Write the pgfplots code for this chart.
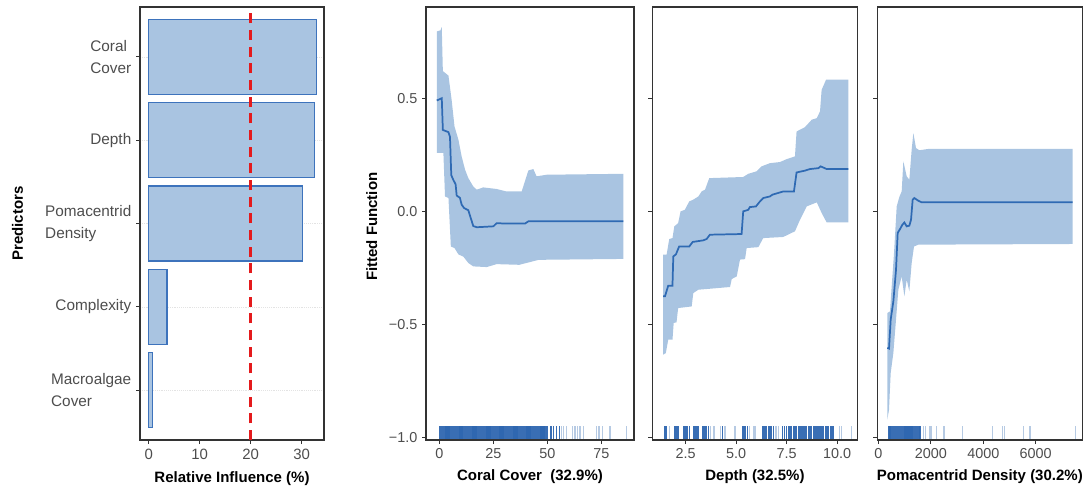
\documentclass[border=0pt]{standalone}
\usepackage{fontspec}
\setmainfont{Liberation Sans}
\usepackage{pgfplots}
\pgfplotsset{compat=1.18}
\definecolor{bandc}{HTML}{A9C4E1}
\definecolor{linec}{HTML}{2F6AB3}
\definecolor{edgec}{HTML}{3D73BC}
\definecolor{framec}{HTML}{333333}
\definecolor{tickc}{HTML}{4D4D4D}
\definecolor{rugc}{HTML}{2E66B0}
\definecolor{redl}{HTML}{E41A1C}
\pgfplotsset{
  base/.style={
    scale only axis, anchor=south west, height=324.75pt,
    axis line style={framec, line width=0.9pt},
    tick style={framec, line width=0.7pt},
    tick align=outside, major tick length=3pt,
    xtick pos=bottom, ytick pos=left,
    ticklabel style={font=\fontsize{10.8}{12}\selectfont, text=tickc},
    label style={font=\bfseries\fontsize{11.25}{13}\selectfont, text=black},
    /pgf/number format/assume math mode=true,
    scaled x ticks=false,
  },
  pdp/.style={
    base,
    ymin=-1.01, ymax=0.903,
    ytick={-1,-0.5,0,0.5},
    xlabel style={at={(axis description cs:0.5,-0.0855)}, anchor=center},
  },
  rug/.style={only marks, mark=|, mark size=4.9pt, opacity=0.35,
    mark options={draw=rugc, line width=0.9pt}},
  rugd/.style={only marks, mark=|, mark size=4.9pt, opacity=0.95,
    mark options={draw=rugc, line width=1.1pt}},
}
\begin{document}
\begin{tikzpicture}
\path[use as bounding box] (0,0) rectangle (816pt,367.5pt);

% ---------------- Panel 1: relative influence
\begin{axis}[base, at={(105pt,37.5pt)}, width=138pt,
  xmin=-1.7, xmax=34.4, ymin=0.4, ymax=5.6,
  xtick={0,10,20,30}, xticklabels={0,10,20,30},
  ytick={1,2,3,4,5},
  yticklabels={{Macroalgae\\Cover},Complexity,{Pomacentrid\\Density},Depth,{Coral\\Cover}},
  xticklabel style={font=\fontsize{11.2}{12}\selectfont},
  yticklabel style={align=left, font=\fontsize{11.5}{16.5}\selectfont},
  ymajorgrids, grid style={densely dotted, gray!22, line width=0.4pt},
  xlabel={Relative Influence (\%)},
  xlabel style={at={(axis description cs:0.5,-0.09)}, anchor=center},
  ylabel={Predictors},
  ylabel style={at={(axis description cs:-0.666,0.5)}, anchor=center},
]
\addplot[xbar, bar width=0.9, fill=bandc, draw=edgec, line width=1pt]
  coordinates {(0.8,1) (3.6,2) (30.2,3) (32.5,4) (32.9,5)};
\addplot[redl, line width=1.8pt, dash pattern=on 7.5pt off 5pt]
  coordinates {(20,0.4) (20,5.6)};
\end{axis}

% ---------------- Panel 2: coral cover
\begin{axis}[pdp, at={(319.5pt,37.5pt)}, width=156pt,
  xmin=-6.2, xmax=90.1,
  xtick={0,25,50,75}, xticklabels={0,25,50,75},
  yticklabels={−1.0,−0.5,0.0,0.5},
  xlabel={Coral Cover\ \ (32.9\%)},
  ylabel={Fitted Function},
  ylabel style={at={(axis description cs:-0.261,0.4926)}, anchor=center},
]
% confidence band: upper bound left to right, then lower bound right to left
\addplot[fill=bandc, draw=none] coordinates {
 (-1.2,0.795) (0.5,0.80) (1.1,0.814) (1.6,0.62) (4.2,0.60) (5.7,0.49) (7.0,0.375)
 (8.8,0.317) (10.3,0.243) (11.9,0.184) (13.4,0.147) (15.7,0.11) (17.3,0.096)
 (20.3,0.106) (26.5,0.099) (31.1,0.088) (38.1,0.088) (39.6,0.133) (41.2,0.181)
 (43.5,0.187) (45,0.155) (49.7,0.162) (85.2,0.166)
 (85.2,-0.21) (46,-0.214) (37,-0.236) (26.5,-0.233) (21.9,-0.246) (15.7,-0.243)
 (13.4,-0.228) (11.1,-0.2) (8.8,-0.19) (7.0,-0.162) (5.3,-0.155) (4.2,0.059)
 (2.6,0.066) (1.85,0.258) (-1.2,0.258)};
\addplot[linec, line width=1.3pt] coordinates {
 (-1.2,0.49) (1.1,0.50) (1.6,0.36) (4.2,0.35) (4.9,0.33) (5.5,0.16) (6.4,0.14)
 (7.5,0.12) (8.0,0.07) (9.5,0.06) (10.3,0.03) (11.4,0.015) (13.4,0.005)
 (14.2,-0.02) (15.7,-0.065) (17.3,-0.07) (25,-0.066) (26.5,-0.052) (31.1,-0.054)
 (39.6,-0.054) (41.2,-0.044) (85.2,-0.044)};
\addplot[rugd] coordinates {
 (0,-0.977) (0.5,-0.977) (1,-0.977) (1.5,-0.977) (2,-0.977) (2.5,-0.977) (3,-0.977) (3.5,-0.977)
 (4,-0.977) (4.5,-0.977) (5,-0.977) (5.5,-0.977) (6,-0.977) (6.5,-0.977) (7,-0.977) (7.5,-0.977)
 (8,-0.977) (8.5,-0.977) (9,-0.977) (9.5,-0.977) (10,-0.977) (10.5,-0.977) (11,-0.977) (11.5,-0.977)
 (12,-0.977) (12.5,-0.977) (13,-0.977) (13.5,-0.977) (14,-0.977) (14.5,-0.977) (15,-0.977) (15.5,-0.977)
 (16,-0.977) (16.5,-0.977) (17,-0.977) (17.5,-0.977) (18,-0.977) (18.5,-0.977) (19,-0.977) (19.5,-0.977)
 (20,-0.977) (20.5,-0.977) (21,-0.977) (21.5,-0.977) (22,-0.977) (22.5,-0.977) (23,-0.977) (23.5,-0.977)
 (24,-0.977) (24.5,-0.977) (25,-0.977) (25.5,-0.977) (26,-0.977) (26.5,-0.977) (27,-0.977) (27.5,-0.977)
 (28,-0.977) (28.5,-0.977) (29,-0.977) (29.5,-0.977) (30,-0.977) (30.5,-0.977) (31,-0.977) (31.5,-0.977)
 (32,-0.977) (32.5,-0.977) (33,-0.977) (33.5,-0.977) (34,-0.977) (34.5,-0.977) (35,-0.977) (35.5,-0.977)
 (36,-0.977) (36.5,-0.977) (37,-0.977) (37.5,-0.977) (38,-0.977) (38.5,-0.977) (39,-0.977) (39.5,-0.977)
 (40,-0.977) (40.5,-0.977) (41,-0.977) (41.5,-0.977) (42,-0.977) (42.5,-0.977) (43,-0.977) (43.5,-0.977)
 (44,-0.977) (44.5,-0.977) (45,-0.977) (45.5,-0.977) (46,-0.977) (46.5,-0.977) (47,-0.977) (47.5,-0.977)
 (48,-0.977) (48.5,-0.977) (49,-0.977) (49.5,-0.977) (50,-0.977)
 (51.6,-0.977) (52.8,-0.977) (54.3,-0.977) (55.5,-0.977)};
\addplot[rug] coordinates {
 (56.7,-0.977) (57.5,-0.977) (59,-0.977)
 (61.8,-0.977) (62.8,-0.977) (63.9,-0.977) (65.1,-0.977) (66.7,-0.977) (72.9,-0.977) (73.9,-0.977)
 (75.6,-0.977) (79,-0.977) (86.8,-0.977)};
\end{axis}

% ---------------- Panel 3: depth
\begin{axis}[pdp, at={(489.2pt,37.5pt)}, width=154pt,
  xmin=0.85, xmax=11.01,
  xtick={2.5,5,7.5,10}, xticklabels={2.5,5.0,7.5,10.0},
  yticklabels={},
  xlabel={Depth (32.5\%)},
]
\addplot[fill=bandc, draw=none] coordinates {
 (1.39,-0.191) (1.56,-0.191) (1.69,-0.122) (1.85,-0.118) (1.94,-0.066) (2.13,-0.052)
 (2.25,0.0) (2.46,0.007) (2.68,0.044) (2.88,0.052) (3.13,0.066) (3.29,0.088) (3.46,0.096)
 (3.67,0.147) (4.7,0.15) (5.35,0.152) (5.6,0.166) (6.01,0.177) (6.26,0.199) (6.67,0.213)
 (7.17,0.218) (7.5,0.231) (7.91,0.243) (7.99,0.353) (8.4,0.372) (8.74,0.405) (8.99,0.412)
 (9.15,0.442) (9.23,0.537) (9.45,0.582) (10.55,0.582)
 (10.55,-0.049) (9.48,-0.049) (9.23,-0.007) (8.99,0.04) (8.49,0.022) (8.16,-0.037)
 (7.91,-0.088) (7.33,-0.113) (6.34,-0.118) (6.1,-0.158) (5.52,-0.162) (5.44,-0.211)
 (5.19,-0.213) (5.03,-0.287) (4.78,-0.299) (4.7,-0.334) (3.54,-0.343) (3.13,-0.346)
 (2.88,-0.361) (2.8,-0.42) (2.13,-0.427) (2.05,-0.49) (1.91,-0.493) (1.85,-0.567)
 (1.64,-0.567) (1.52,-0.626) (1.39,-0.633)};
\addplot[linec, line width=1.3pt] coordinates {
 (1.39,-0.375) (1.48,-0.375) (1.64,-0.328) (1.85,-0.328) (1.89,-0.199) (2.02,-0.19)
 (2.18,-0.155) (2.68,-0.155) (2.85,-0.135) (3.37,-0.128) (3.54,-0.122) (3.70,-0.103)
 (5.27,-0.10) (5.35,0.0) (5.6,0.007) (5.68,0.019) (5.98,0.022) (6.14,0.04) (6.34,0.059)
 (6.67,0.066) (6.8,0.074) (7.33,0.088) (7.86,0.088) (7.99,0.172) (8.4,0.18) (8.65,0.187)
 (9.07,0.191) (9.18,0.199) (9.48,0.187) (10.55,0.187)};
\addplot[rugd] coordinates {
 (1.48,-0.977) (1.56,-0.977) (1.97,-0.977) (2.05,-0.977) (2.13,-0.977)
 (2.43,-0.977) (2.51,-0.977) (2.6,-0.977) (2.68,-0.977) (2.88,-0.977) (2.96,-0.977)
 (3.04,-0.977) (3.12,-0.977) (3.37,-0.977) (3.46,-0.977) (3.54,-0.977) (3.62,-0.977)
 (4.33,-0.977) (5.35,-0.977) (5.44,-0.977) (5.55,-0.977)
 (6.34,-0.977) (6.43,-0.977) (6.51,-0.977) (6.59,-0.977) (6.67,-0.977) (6.76,-0.977)
 (6.84,-0.977) (7.3,-0.977) (7.38,-0.977) (7.5,-0.977)
 (7.58,-0.977) (7.66,-0.977) (7.75,-0.977) (7.83,-0.977) (7.91,-0.977) (7.99,-0.977)
 (8.08,-0.977) (8.16,-0.977) (8.25,-0.977) (8.33,-0.977) (8.41,-0.977) (8.49,-0.977)
 (8.58,-0.977) (8.66,-0.977) (8.74,-0.977) (8.83,-0.977) (8.91,-0.977) (8.99,-0.977)
 (9.08,-0.977) (9.16,-0.977) (9.24,-0.977) (9.32,-0.977) (9.41,-0.977) (9.49,-0.977)
 (9.57,-0.977) (9.66,-0.977) (9.74,-0.977) (9.82,-0.977)};
\addplot[rug] coordinates {
 (1.72,-0.977) (3.74,-0.977) (3.9,-0.977) (4.23,-0.977) (4.45,-0.977) (4.94,-0.977)
 (5.68,-0.977) (5.85,-0.977) (5.93,-0.977) (6.97,-0.977) (7.08,-0.977)
 (10.11,-0.977) (10.22,-0.977) (10.72,-0.977)};
\end{axis}

% ---------------- Panel 4: pomacentrid density
\begin{axis}[pdp, at={(658pt,37.5pt)}, width=153.75pt,
  xmin=-38, xmax=7777,
  xtick={0,2000,4000,6000}, xticklabels={0,2000,4000,6000},
  yticklabels={},
  xlabel={Pomacentrid Density (30.2\%)},
]
\addplot[fill=bandc, draw=none] coordinates {
 (343,-0.449) (445,-0.442) (509,-0.331) (598,-0.184) (700,0.022) (801,0.064) (890,0.088)
 (954,0.221) (1081,0.155) (1182,0.14) (1271,0.273) (1335,0.346) (1436,0.28) (1563,0.27)
 (1906,0.276) (7410,0.276)
 (7410,-0.144) (1525,-0.147) (1360,-0.155) (1271,-0.228) (1182,-0.353) (1081,-0.302)
 (992,-0.375) (890,-0.287) (763,-0.346) (674,-0.478) (573,-0.625) (471,-0.714)
 (407,-0.876) (343,-0.92)};
\addplot[linec, line width=1.3pt] coordinates {
 (343,-0.603) (407,-0.606) (471,-0.478) (573,-0.397) (674,-0.258) (738,-0.095) (827,-0.078)
 (916,-0.059) (992,-0.049) (1081,-0.066) (1182,-0.063) (1246,-0.037) (1309,0.052)
 (1373,0.059) (1525,0.047) (1652,0.04) (7410,0.04)};
\addplot[rugd] coordinates {
 (410,-0.977) (450,-0.977) (490,-0.977) (530,-0.977) (570,-0.977) (610,-0.977) (650,-0.977)
 (690,-0.977) (730,-0.977) (770,-0.977) (810,-0.977) (850,-0.977) (890,-0.977) (930,-0.977)
 (970,-0.977) (1010,-0.977) (1050,-0.977) (1090,-0.977) (1130,-0.977) (1170,-0.977)
 (1210,-0.977) (1250,-0.977) (1290,-0.977) (1330,-0.977) (1370,-0.977) (1410,-0.977)
 (1450,-0.977) (1490,-0.977) (1530,-0.977) (1570,-0.977) (1590,-0.977)};
\addplot[rug] coordinates {
 (1716,-0.977) (1807,-0.977) (1971,-0.977) (2035,-0.977) (2226,-0.977) (2505,-0.977)
 (3203,-0.977) (4346,-0.977) (4727,-0.977) (4804,-0.977) (5528,-0.977) (5783,-0.977)
 (7526,-0.977)};
\end{axis}
\end{tikzpicture}
\end{document}
